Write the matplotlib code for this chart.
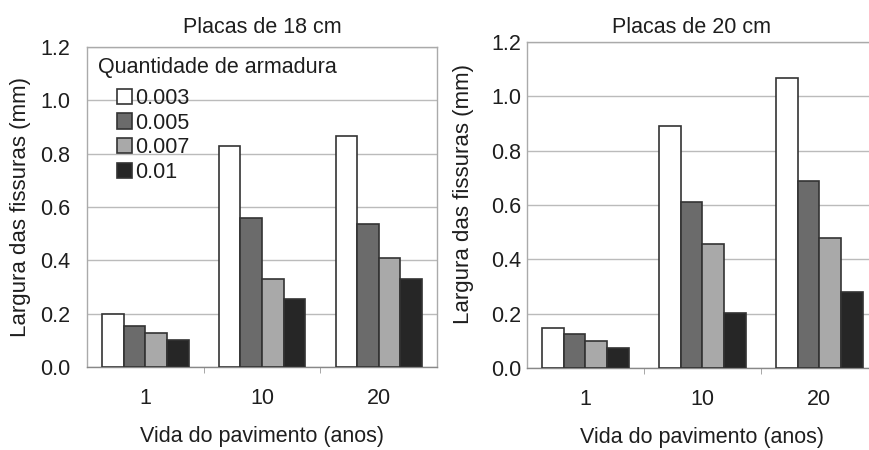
import numpy as np
import matplotlib
matplotlib.use("Agg")
import matplotlib.pyplot as plt

plt.rcParams['font.family'] = ['Liberation Sans', 'DejaVu Sans']

# data
anos = ["1", "10", "20"]
armadura = ["0.003", "0.005", "0.007", "0.01"]
placa_18 = [
    [0.20, 0.83, 0.865],
    [0.155, 0.56, 0.535],
    [0.127, 0.33, 0.41],
    [0.10, 0.255, 0.33],
]
placa_20 = [
    [0.148, 0.89, 1.068],
    [0.125, 0.61, 0.688],
    [0.10, 0.456, 0.48],
    [0.074, 0.203, 0.28],
]
cores = ["#ffffff", "#6b6b6b", "#a9a9a9", "#262626"]
TXT = "#1e1e1e"
FS = 15.5


def draw_panel(ax, values, title, title_xy, ytick_pad):
    x = np.arange(len(anos))
    w = 0.185
    handles = []
    for i, serie in enumerate(values):
        b = ax.bar(x + (i - 1.5) * w, serie, w, color=cores[i],
                   edgecolor="#333333", linewidth=1.2, zorder=3)
        handles.append(b)
    ax.set_xlim(-0.5, 2.5)
    ax.set_ylim(0, 1.2)
    ax.set_yticks(np.arange(0, 1.21, 0.2))
    ax.set_yticklabels([f"{v:.1f}" for v in np.arange(0, 1.21, 0.2)])
    ax.set_xticks(x)
    ax.set_xticklabels(anos)
    ax.set_xticks([0.5, 1.5], minor=True)
    ax.tick_params(axis="x", which="major", length=0, pad=15,
                   labelsize=FS, labelcolor=TXT)
    ax.tick_params(axis="x", which="minor", length=4, color="#999999")
    ax.tick_params(axis="y", length=0, pad=ytick_pad, labelsize=FS,
                   labelcolor=TXT)
    ax.yaxis.grid(True, color="#bbbbbb", linewidth=1.0, zorder=0)
    for s in ax.spines.values():
        s.set_color("#aaaaaa")
        s.set_linewidth(1.0)
    ax.spines["bottom"].set_color("#888888")
    ax.set_xlabel("Vida do pavimento (anos)", fontsize=FS, color=TXT,
                  labelpad=12)
    ax.set_ylabel("Largura das fissuras (mm)", fontsize=16, color=TXT)
    ax.text(title_xy[0], title_xy[1], title, transform=ax.transAxes,
            ha="center", va="center", fontsize=FS, color=TXT)
    return handles


fig = plt.figure(figsize=(8.7, 4.5), dpi=100)
ax1 = fig.add_axes([0.1, 0.1844, 0.4023, 0.7111])
ax2 = fig.add_axes([0.6057, 0.1822, 0.4034, 0.7244])

h = draw_panel(ax1, placa_18, "Placas de 18 cm", (0.5, 1.06), 12)
draw_panel(ax2, placa_20, "Placas de 20 cm", (0.47, 1.046), 4)
ax1.yaxis.set_label_coords(-0.16, 0.5)
ax2.yaxis.set_label_coords(-0.15, 0.535)

ax1.text(0.03, 0.935, "Quantidade de armadura", transform=ax1.transAxes,
         ha="left", va="center", fontsize=FS, color=TXT)
ax1.legend(h, armadura, loc="upper left", bbox_to_anchor=(0.06, 0.9),
           frameon=False, fontsize=FS, handlelength=0.7, handleheight=0.7,
           handletextpad=0.15, labelspacing=0.18, borderaxespad=0,
           labelcolor=TXT)

fig.savefig("out.png", dpi=100)
